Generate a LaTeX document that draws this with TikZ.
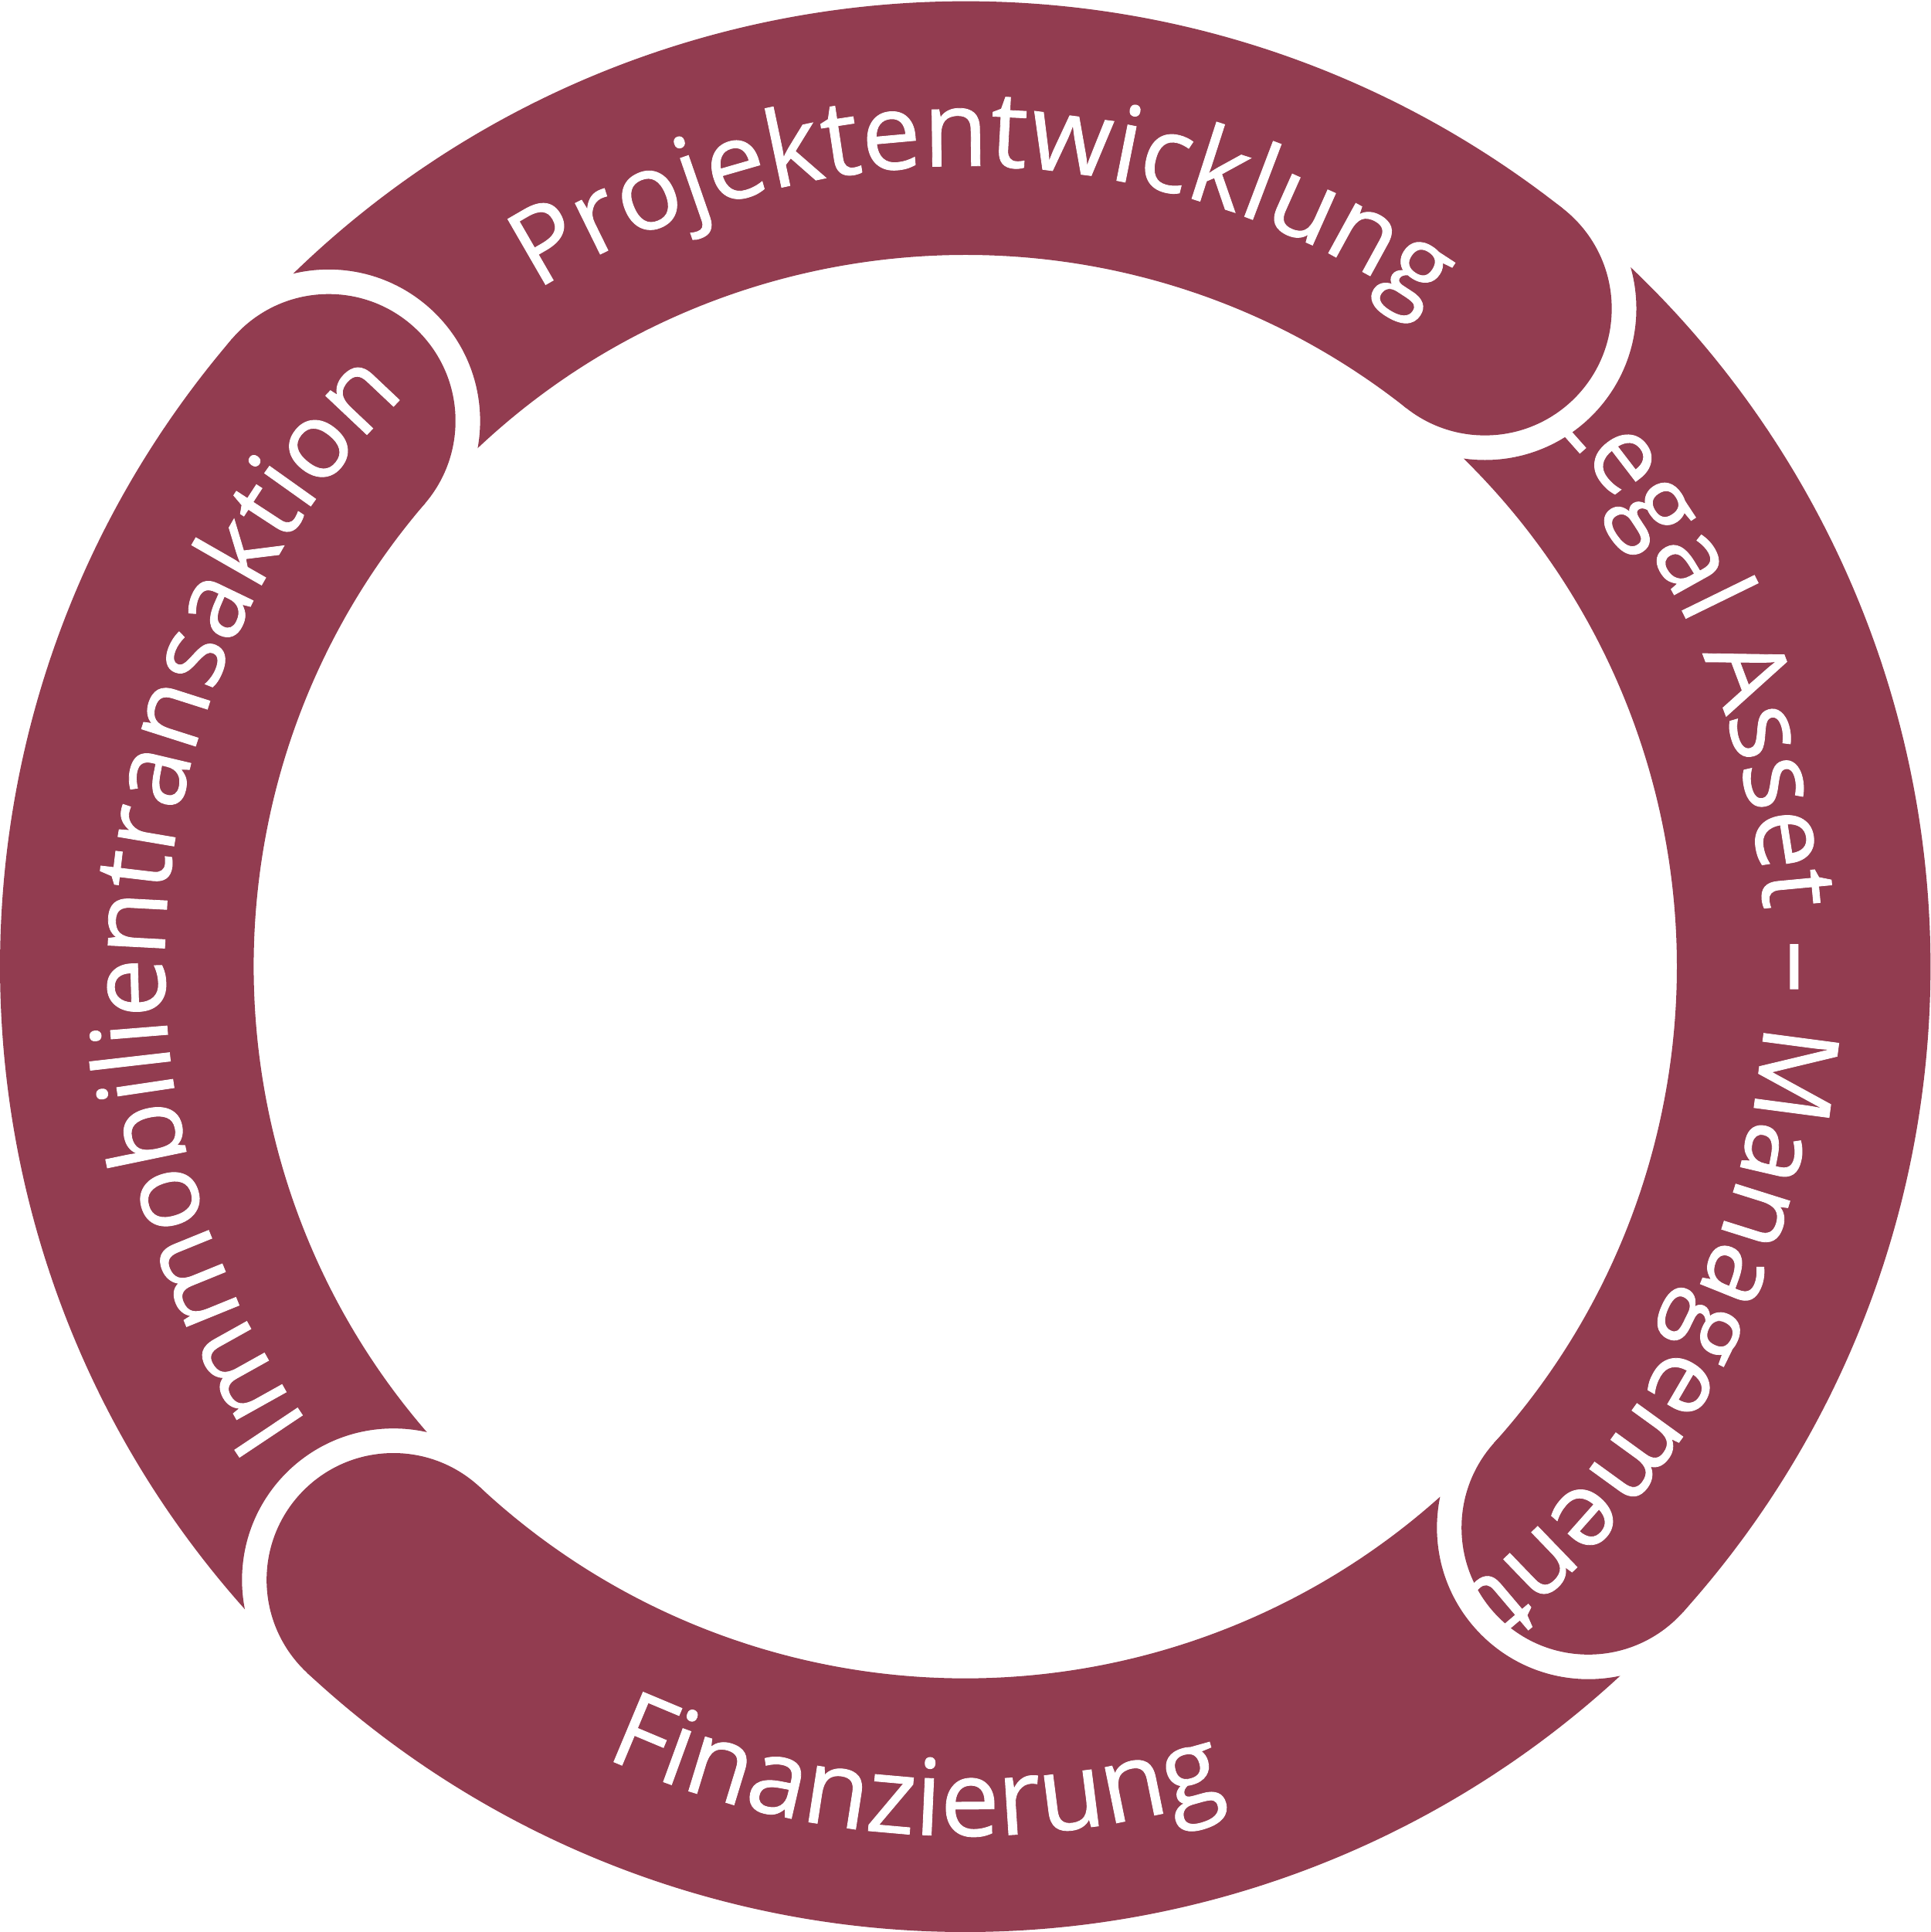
\documentclass[tikz,border=0pt]{standalone}
\usepackage{fontspec}
\setmainfont[FakeBold=0.6]{Open Sans}
\usetikzlibrary{decorations.text}
\definecolor{maroon}{HTML}{923C50}
\tikzset{
  seg/.style={draw=maroon,line width=20.6mm},
  lbl/.style={decorate,decoration={text along path,text align=center,
     text color=white}}
}
\newcommand{\lf}{\fontsize{24.5}{25}\selectfont\addfontfeatures{LetterSpace=2}}
\begin{document}
\begin{tikzpicture}[x=0.1mm,y=0.1mm]
\useasboundingbox (-784,-784) rectangle (784,785);
\foreach \a/\b in {139.4/51.7, 227/139.4, 318/227, 411.7/318}{
  \begin{scope}[even odd rule]
    \clip (-900,-900) rectangle (900,900) (\a:681) circle (123);
    \draw[seg] (\a:681) arc[start angle=\a, end angle=\b, radius=681];
    \fill[maroon] (\b:681) circle (103);
  \end{scope}
}
\path[lbl,decoration={text={|\lf|Projektentwicklung}}]
  (153.6:650) arc[start angle=153.6,end angle=23.6,radius=650];
\path[lbl,decoration={text={|\lf|Legal Asset – Management}}]
  (71.3:650) arc[start angle=71.3,end angle=-78.7,radius=650];
\path[lbl,decoration={text={|\lf|Immobilientransaktion}}]
  (249.6:650) arc[start angle=249.6,end angle=99.6,radius=650];
\path[lbl,decoration={text={|\lf|Finanzierung}}]
  (211.5:706) arc[start angle=211.5,end angle=321.5,radius=706];
\end{tikzpicture}
\end{document}
